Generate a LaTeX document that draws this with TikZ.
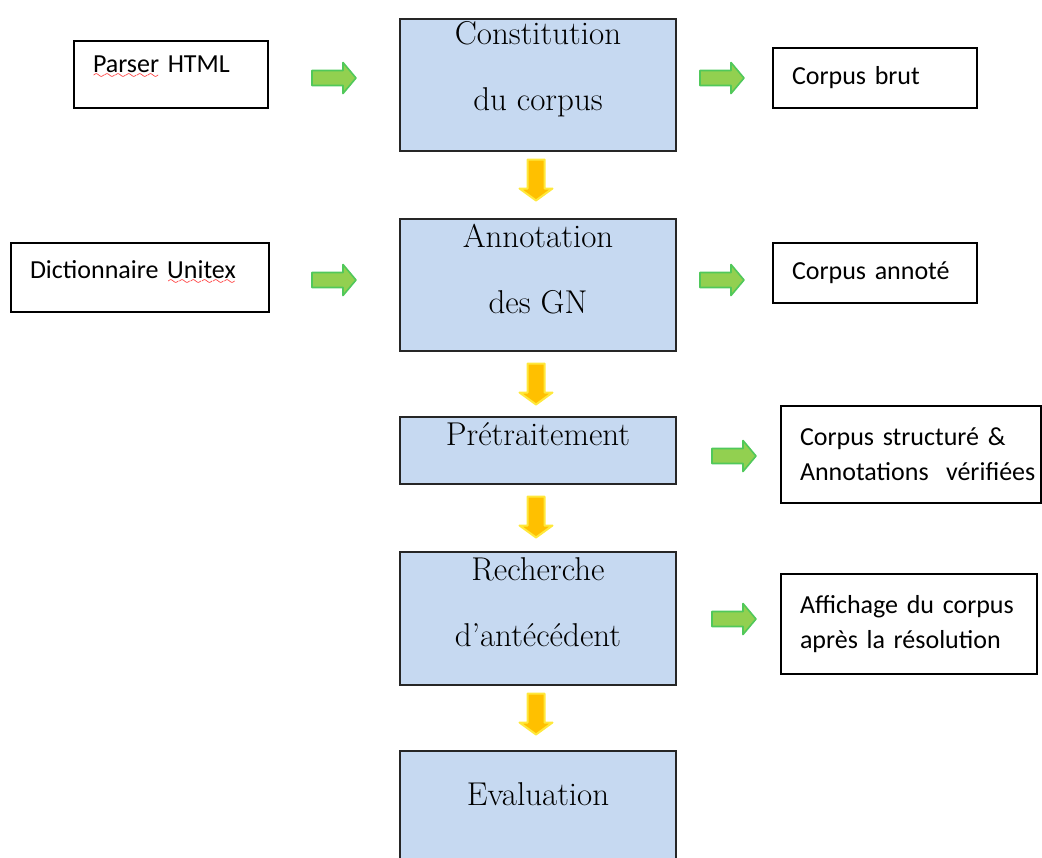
\documentclass[tikz,border=0pt]{standalone}
\usepackage{fontspec}
\newfontfamily\calib{Carlito}
\font\wavefont=lasy6
\definecolor{stp}{RGB}{198,217,241}
\definecolor{grn}{RGB}{146,208,80}
\definecolor{grd}{RGB}{80,200,90}
\definecolor{ylw}{RGB}{255,192,0}
\definecolor{ylg}{RGB}{255,232,60}
\newsavebox\wavebox
\newcommand\redwave[1]{\sbox\wavebox{#1}\rlap{\smash{\textcolor{red}{\lower3pt\hbox to\wd\wavebox{\wavefont\xleaders\hbox{\char58}\hfil}}}}\usebox\wavebox}

\begin{document}
\begin{tikzpicture}[x=0.5pt,y=-0.5pt,
  stepbox/.style={draw=black!85,line width=1pt,fill=stp,anchor=north west,minimum width=138pt},
  steptxt/.style={font=\fontsize{16.5}{33}\selectfont,align=center,inner sep=0pt,yshift=8pt},
  iobox/.style={draw,line width=1pt,anchor=north west,align=left,inner xsep=9.5pt,font=\calib\fontsize{13}{17.5}\selectfont},
  gar/.pic={\path[fill=grn,draw=grd,line width=0.8pt,line join=round]
    (-22,-7.5) -- (9,-7.5) -- (9,-15.5) -- (22,0) -- (9,15.5) -- (9,7.5) -- (-22,7.5) -- cycle;},
  yar/.pic={\path[fill=ylw,draw=ylg,line width=1pt,line join=round]
    (-8.5,-20.5) -- (8.5,-20.5) -- (8.5,8.5) -- (16.5,8.5) -- (0,20.5) -- (-16.5,8.5) -- (-8.5,8.5) -- cycle;}]
  \useasboundingbox (0,0) rectangle (1042,857);
  \clip (0,0) rectangle (1042,857);
  % main chain
  \node[stepbox,minimum height=66pt,label={[steptxt]center:{Constitution\\du corpus}}] (const) at (399,18) {};
  \node[stepbox,minimum height=66pt,label={[steptxt]center:{Annotation\\des GN}}] (annot) at (399,218) {};
  \node[stepbox,minimum height=33.5pt,label={[steptxt]center:Prétraitement}] (pretr) at (399,416) {};
  \node[stepbox,minimum height=66.5pt,label={[steptxt]center:{Recherche\\d’antécédent}}] (rech) at (399,551) {};
  \node[stepbox,minimum height=59pt,label={[steptxt]center:Evaluation}] (eval) at (399,750) {};
  % inputs
  \node[iobox,text width=78pt,minimum height=33.5pt,text depth=10pt] (parser) at (73,40) {\redwave{Parser} HTML};
  \node[iobox,text width=110pt,minimum height=34.5pt,text depth=8pt] (dico) at (10,242) {Dictionnaire \redwave{Unitex}};
  % outputs
  \node[iobox,text width=83pt,minimum height=30pt] (brut) at (772,47) {Corpus brut};
  \node[iobox,text width=83pt,minimum height=30pt] (annote) at (772,242) {Corpus annoté};
  \node[iobox,text width=111pt,minimum height=48.5pt] (struct) at (780,405) {Corpus structuré \&\\\mbox{Annotations\ \ vérifiées}};
  \node[iobox,text width=109pt,minimum height=50pt] (affich) at (780,573) {Affichage du corpus\\après la résolution};
  % green arrows
  \pic (g1) at (334,78) {gar};
  \pic (g2) at (722,78) {gar};
  \pic (g3) at (334,280) {gar};
  \pic (g4) at (722,280) {gar};
  \pic (g5) at (734,456) {gar};
  \pic (g6) at (734,619) {gar};
  % yellow arrows
  \pic (y1) at (536,180) {yar};
  \pic (y2) at (536,384) {yar};
  \pic (y3) at (536,517) {yar};
  \pic (y4) at (536,714) {yar};
\end{tikzpicture}
\end{document}
